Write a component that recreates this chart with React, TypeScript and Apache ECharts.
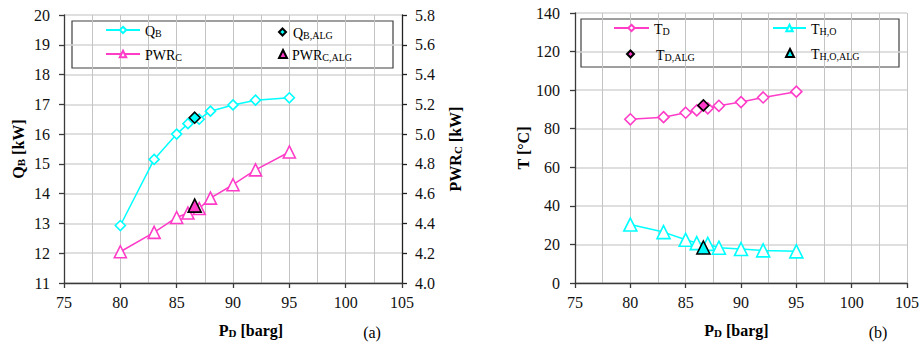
import React, { useEffect, useRef } from "react";
import * as echarts from "echarts";

// ---- data ----
const pressure = [80, 83, 85, 86, 87, 88, 90, 92, 95];
const qB = [12.93, 15.15, 16.0, 16.35, 16.5, 16.77, 16.98, 17.14, 17.22];
const pwrC = [4.21, 4.34, 4.44, 4.47, 4.5, 4.57, 4.66, 4.76, 4.88];
const tD = [84.9, 86.0, 88.3, 89.5, 90.6, 91.9, 93.8, 96.2, 99.2];
const tHO = [30.3, 26.4, 22.4, 20.7, 20.3, 18.3, 17.6, 16.9, 16.4];
const pAlg = [86.6];
const qBAlg = [16.55];
const pwrCAlg = [4.52];
const tDAlg = [92.1];
const tHOAlg = [18.4];

const xTicksMin = 75;
const xTicksMax = 105;

const CYAN = "#00FFFF";
const MAG = "#FF3CC8";
const FONT = "'Liberation Serif', 'Times New Roman', serif";

const pairs = (xs: number[], ys: number[]) => xs.map((x, i) => [x, ys[i]]);

const legendRichBase = {
  m: { fontSize: 14, fontFamily: FONT, color: "#000", lineHeight: 16, verticalAlign: "bottom" },
  s: { fontSize: 10, fontFamily: FONT, color: "#000", lineHeight: 11, verticalAlign: "bottom" },
};
const nameRich = {
  m: { fontSize: 16, fontFamily: FONT, fontWeight: "bold", color: "#000", lineHeight: 18, verticalAlign: "bottom" },
  s: { fontSize: 11, fontFamily: FONT, fontWeight: "bold", color: "#000", lineHeight: 13, verticalAlign: "bottom" },
};

const labelText: Record<string, string> = {
  QB: "{m|Q}{s|B}",
  PWRC: "{m|PWR}{s|C}",
  "QB,ALG": "{sp| }{m|Q}{s|B,ALG}",
  "PWRC,ALG": "{m|PWR}{s|C,ALG}",
  TD: "{m|T}{s|D}",
  "TH,O": "{m|T}{s|H,O}",
  "TD,ALG": "{sp| }{m|T}{s|D,ALG}",
  "TH,O,ALG": "{sp| }{m|T}{s|H,O,ALG}",
};

function legendItem(name: string, left: number, top: number, itemWidth: number, itemHeight: number, spacer = 0) {
  return {
    show: true,
    left,
    top,
    padding: 0,
    itemGap: 0,
    itemWidth,
    itemHeight,
    selectedMode: false,
    data: [name],
    formatter: (n: string) => labelText[n] || n,
    textStyle: {
      fontFamily: FONT,
      fontSize: 14,
      color: "#000",
      rich: { ...legendRichBase, sp: { width: spacer, fontSize: 14, fontFamily: FONT, lineHeight: 16 } },
    },
  };
}

const axisLineStyle = { color: "#3a3a3a", width: 1.3 };
const tickText = { fontFamily: FONT, fontSize: 16, color: "#111" };
const nameStyle = (padding?: number[]) => ({
  fontFamily: FONT,
  fontSize: 16,
  fontWeight: "bold",
  color: "#000",
  rich: nameRich,
  ...(padding ? { padding } : {}),
});

function xAxisCfg(gridIndex: number, padding: number[]) {
  return {
    type: "value",
    gridIndex,
    min: xTicksMin,
    max: xTicksMax,
    interval: 5,
    name: "{m|P}{s|D}{m| [barg]}",
    nameLocation: "middle",
    nameGap: 37,
    nameTextStyle: nameStyle(padding),
    axisLine: { show: true, onZero: false, lineStyle: axisLineStyle },
    axisTick: { show: true, inside: false, length: 5, lineStyle: axisLineStyle },
    axisLabel: { margin: 11, textStyle: tickText },
    splitLine: { show: true, lineStyle: { color: "#c4c4c4", width: 1 } },
    minorTick: { show: false, splitNumber: 2 },
    minorSplitLine: { show: true, lineStyle: { color: "#c4c4c4", width: 1 } },
  };
}

export default function App() {
  const ref = useRef<HTMLDivElement>(null);
  useEffect(() => {
    if (!ref.current) return;
    const chart = echarts.init(ref.current, undefined, { renderer: "svg" });
    const hSplit = { show: true, lineStyle: { color: "#d4d4d4", width: 1.5 } };
    const option: any = {
      animation: false,
      backgroundColor: "#fff",
      textStyle: { fontFamily: FONT },
      grid: [
        { left: 64, top: 15, width: 338, height: 268 },
        { left: 575, top: 13, width: 333, height: 270 },
      ],
      xAxis: [xAxisCfg(0, [0, 0, 0, 36]), xAxisCfg(1, [0, 9, 0, 0])],
      yAxis: [
        {
          type: "value",
          gridIndex: 0,
          position: "left",
          min: 11,
          max: 20,
          interval: 1,
          name: "{m|Q}{s|B}{m| [kW]}",
          nameLocation: "middle",
          nameRotate: 90,
          nameGap: 38,
          nameTextStyle: nameStyle(),
          axisLine: { show: true, onZero: false, lineStyle: axisLineStyle },
          axisTick: { show: true, length: 5, lineStyle: axisLineStyle },
          axisLabel: { margin: 14, textStyle: tickText },
          splitLine: hSplit,
        },
        {
          type: "value",
          gridIndex: 0,
          position: "right",
          min: 4.0,
          max: 5.8,
          interval: 0.2,
          name: "{m|PWR}{s|C}{m| [kW]}",
          nameLocation: "middle",
          nameRotate: 90,
          nameGap: 43,
          nameTextStyle: nameStyle(),
          axisLine: { show: true, onZero: false, lineStyle: { color: "#222", width: 1.3 } },
          axisTick: { show: true, length: 5, lineStyle: { color: "#222", width: 1.3 } },
          axisLabel: {
            margin: 13,
            formatter: (v: number) => v.toFixed(1),
            textStyle: tickText,
          },
          splitLine: { show: false },
        },
        {
          type: "value",
          gridIndex: 1,
          position: "left",
          min: 0,
          max: 140,
          interval: 20,
          name: "{m|T [°C]}",
          nameLocation: "middle",
          nameRotate: 90,
          nameGap: 44,
          nameTextStyle: nameStyle(),
          axisLine: { show: true, onZero: false, lineStyle: axisLineStyle },
          axisTick: { show: true, length: 5, lineStyle: axisLineStyle },
          axisLabel: { margin: 15, textStyle: tickText },
          splitLine: hSplit,
        },
      ],
      legend: [
        legendItem("QB", 105, 24, 34, 8),
        legendItem("PWRC", 105, 48, 34, 8),
        legendItem("QB,ALG", 278, 25, 7, 7, 2),
        legendItem("PWRC,ALG", 278, 48, 8, 8),
        legendItem("TD", 613, 22, 35, 8),
        legendItem("TH,O", 772, 22, 33, 8),
        legendItem("TD,ALG", 626, 47, 7, 7, 17),
        legendItem("TH,O,ALG", 785, 46, 8, 8, 12),
      ],
      graphic: [
        {
          type: "rect",
          shape: { x: 72, y: 21, width: 321, height: 47 },
          style: { fill: "#fff", stroke: "#404040", lineWidth: 1.2 },
          z: 0,
        },
        {
          type: "rect",
          shape: { x: 581, y: 19, width: 318, height: 48 },
          style: { fill: "#fff", stroke: "#404040", lineWidth: 1.2 },
          z: 0,
        },
        {
          type: "text",
          x: 372,
          y: 332,
          style: { text: "(a)", font: `16px ${FONT}`, fill: "#000", textAlign: "center", textVerticalAlign: "middle" },
        },
        {
          type: "text",
          x: 878,
          y: 332,
          style: { text: "(b)", font: `16px ${FONT}`, fill: "#000", textAlign: "center", textVerticalAlign: "middle" },
        },
      ],
      series: [
        {
          name: "QB",
          type: "line",
          xAxisIndex: 0,
          yAxisIndex: 0,
          data: pairs(pressure, qB),
          symbol: "diamond",
          symbolSize: 10,
          lineStyle: { color: CYAN, width: 1.5 },
          itemStyle: { color: "#fff", borderColor: CYAN, borderWidth: 1.6 },
          z: 3,
        },
        {
          name: "PWRC",
          type: "line",
          xAxisIndex: 0,
          yAxisIndex: 1,
          data: pairs(pressure, pwrC),
          symbol: "triangle",
          symbolSize: 12,
          lineStyle: { color: MAG, width: 1.5 },
          itemStyle: { color: "#fff", borderColor: MAG, borderWidth: 1.6 },
          z: 3,
        },
        {
          name: "QB,ALG",
          type: "scatter",
          xAxisIndex: 0,
          yAxisIndex: 0,
          data: pairs(pAlg, qBAlg),
          symbol: "diamond",
          symbolSize: 11,
          itemStyle: { color: CYAN, borderColor: "#000", borderWidth: 1.6, opacity: 1 },
          z: 5,
        },
        {
          name: "PWRC,ALG",
          type: "scatter",
          xAxisIndex: 0,
          yAxisIndex: 1,
          data: pairs(pAlg, pwrCAlg),
          symbol: "triangle",
          symbolSize: 13,
          itemStyle: { color: MAG, borderColor: "#000", borderWidth: 1.6, opacity: 1 },
          z: 5,
        },
        {
          name: "TD",
          type: "line",
          xAxisIndex: 1,
          yAxisIndex: 2,
          data: pairs(pressure, tD),
          symbol: "diamond",
          symbolSize: 11,
          lineStyle: { color: MAG, width: 1.5 },
          itemStyle: { color: "#fff", borderColor: MAG, borderWidth: 1.6 },
          z: 3,
        },
        {
          name: "TH,O",
          type: "line",
          xAxisIndex: 1,
          yAxisIndex: 2,
          data: pairs(pressure, tHO),
          symbol: "triangle",
          symbolSize: 13,
          lineStyle: { color: CYAN, width: 1.5 },
          itemStyle: { color: "#fff", borderColor: CYAN, borderWidth: 1.6 },
          z: 3,
        },
        {
          name: "TD,ALG",
          type: "scatter",
          xAxisIndex: 1,
          yAxisIndex: 2,
          data: pairs(pAlg, tDAlg),
          symbol: "diamond",
          symbolSize: 11,
          itemStyle: { color: MAG, borderColor: "#000", borderWidth: 1.6, opacity: 1 },
          z: 5,
        },
        {
          name: "TH,O,ALG",
          type: "scatter",
          xAxisIndex: 1,
          yAxisIndex: 2,
          data: pairs(pAlg, tHOAlg),
          symbol: "triangle",
          symbolSize: 13,
          itemStyle: { color: CYAN, borderColor: "#000", borderWidth: 1.6, opacity: 1 },
          z: 5,
        },
      ],
    };
    chart.setOption(option);
    return () => chart.dispose();
  }, []);
  return (
    <div
      ref={ref}
      style={{ position: "fixed", left: 0, top: 0, width: 922, height: 345, background: "#fff" }}
    />
  );
}
